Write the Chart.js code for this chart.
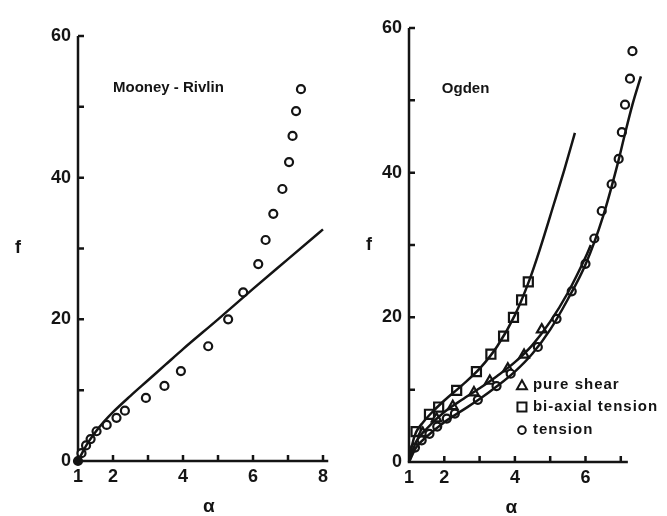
<!DOCTYPE html>
<html>
<head>
<meta charset="utf-8">
<script src="https://cdn.jsdelivr.net/npm/chart.js@4.4.1/dist/chart.umd.min.js"></script>
<style>
  html, body { margin: 0; padding: 0; background: #fff; }
  #wrap { position: relative; width: 667px; height: 516px; }
  .box { position: absolute; top: 0; height: 516px; }
  #left { left: 0; width: 330px; }
  #right { left: 330px; width: 337px; }
</style>
</head>
<body>
<div id="wrap">
  <div class="box" id="left"><canvas id="mrChart" width="330" height="516"></canvas></div>
  <div class="box" id="right"><canvas id="ogChart" width="337" height="516"></canvas></div>
</div>
<script>
// ---- Mooney-Rivlin panel ----
const mrCurveA = [1, 1.25, 1.5, 1.75, 2, 2.5, 3, 3.5, 4, 5, 6, 7, 8];
const mrCurveF = [0, 2.3, 4.1, 5.6, 6.9, 9.2, 11.4, 13.6, 15.8, 20.0, 24.3, 28.5, 32.7];
const mrTensionA = [1, 1.1, 1.23, 1.36, 1.53, 1.82, 2.1, 2.34, 2.94, 3.47, 3.94, 4.72, 5.29, 5.72, 6.15, 6.36, 6.58, 6.84, 7.03, 7.13, 7.23, 7.37];
const mrTensionF = [0, 1.1, 2.2, 3.1, 4.2, 5.1, 6.1, 7.1, 8.9, 10.6, 12.7, 16.2, 20.0, 23.8, 27.8, 31.2, 34.9, 38.4, 42.2, 45.9, 49.4, 52.5];

// ---- Ogden panel ----
const ogTensionCurveA = [1, 1.2, 1.5, 2, 2.5, 3, 3.5, 4, 4.5, 5, 5.5, 6, 6.5, 6.9, 7.1, 7.33, 7.57];
const ogTensionCurveF = [0, 2.0, 3.5, 5.5, 7.1, 8.7, 10.5, 12.5, 15.0, 18.3, 22.5, 27.3, 34.0, 41.0, 45.0, 49.4, 53.3];
const ogShearCurveA = [1, 1.2, 1.5, 2, 2.5, 3, 3.5, 4, 4.5, 5, 5.5, 6, 6.15];
const ogShearCurveF = [0, 2.8, 4.6, 6.9, 8.6, 10.2, 11.9, 13.8, 16.2, 19.4, 23.4, 28.3, 30.0];
const ogBiaxCurveA = [1, 1.1, 1.2, 1.4, 1.6, 2, 2.5, 3, 3.5, 4, 4.4, 4.7, 5.1, 5.4, 5.7];
const ogBiaxCurveF = [0, 2.6, 4.1, 5.5, 6.6, 8.5, 10.6, 12.9, 16.0, 20.3, 25.0, 29.3, 35.6, 40.4, 45.5];

const ogTensionA = [1.17, 1.36, 1.58, 1.8, 2.07, 2.3, 2.95, 3.48, 3.88, 4.65, 5.18, 5.61, 6.0, 6.25, 6.46, 6.74, 6.94, 7.03, 7.12, 7.26, 7.33];
const ogTensionF = [2.0, 3.0, 3.9, 4.9, 6.0, 6.7, 8.6, 10.5, 12.2, 15.9, 19.8, 23.6, 27.4, 30.9, 34.7, 38.4, 41.9, 45.6, 49.4, 53.0, 56.8];
const ogShearA = [1.39, 1.78, 2.24, 2.84, 3.29, 3.8, 4.26, 4.76];
const ogShearF = [4.0, 6.0, 7.7, 9.6, 11.2, 12.9, 14.8, 18.3];
const ogBiaxA = [1.2, 1.58, 1.84, 2.35, 2.91, 3.32, 3.68, 3.96, 4.19, 4.38];
const ogBiaxF = [4.2, 6.6, 7.6, 9.9, 12.5, 14.9, 17.4, 20.0, 22.4, 24.9];

// ---- tick labels ----
const mrXLabels = [1, 2, 4, 6, 8];
const ogXLabels = [1, 2, 4, 6];
const yLabels = [0, 20, 40, 60];
const yTickMarks = [0, 10, 20, 30, 40, 50, 60];

const ink = '#141414';
const fam = '"Liberation Sans", Arial, sans-serif';

function pts(xs, ys) {
  return xs.map((v, i) => ({ x: v, y: ys[i] }));
}

function curve(xs, ys) {
  return {
    data: pts(xs, ys), showLine: true, pointRadius: 0, borderColor: ink,
    borderWidth: 2.5, cubicInterpolationMode: 'monotone', fill: false
  };
}

function marks(xs, ys, style, r) {
  return {
    data: pts(xs, ys), showLine: false, pointStyle: style, pointRadius: r,
    pointBorderWidth: 2.2, pointBorderColor: ink,
    pointBackgroundColor: c => (c.raw && c.raw.x === 1 && c.raw.y === 0) ? ink : '#fff'
  };
}

// axis lines with inward ticks, free text and the small legend
const paperAxes = {
  id: 'paperAxes',
  beforeDatasetsDraw(chart, args, o) {
    const { ctx, scales: { x, y } } = chart;
    const x0 = x.getPixelForValue(1), y0 = y.getPixelForValue(0);
    ctx.save();
    ctx.strokeStyle = ink;
    ctx.lineWidth = 2.5;
    ctx.beginPath();
    ctx.moveTo(x0, y.getPixelForValue(60));
    ctx.lineTo(x0, y0);
    ctx.lineTo(x.getPixelForValue(o.xEnd), y0);
    yTickMarks.forEach(v => {
      const p = y.getPixelForValue(v);
      ctx.moveTo(x0, p); ctx.lineTo(x0 + 6, p);
    });
    o.xTicks.forEach(v => {
      const p = x.getPixelForValue(v);
      ctx.moveTo(p, y0); ctx.lineTo(p, y0 - 6);
    });
    ctx.stroke();
    ctx.restore();
  },
  afterDatasetsDraw(chart, args, o) {
    const { ctx, chartArea, scales: { x, y } } = chart;
    ctx.save();
    ctx.fillStyle = ink;
    ctx.textBaseline = 'middle';
    o.texts.forEach(t => {
      const px = (t.x == null ? chartArea.left : x.getPixelForValue(t.x)) + (t.dx || 0);
      const py = (t.y == null ? chartArea.bottom : y.getPixelForValue(t.y)) + (t.dy || 0);
      ctx.font = t.font;
      ctx.textAlign = t.align || 'left';
      ctx.fillText(t.text, px, py);
    });
    ctx.strokeStyle = ink;
    ctx.lineWidth = 2;
    (o.legend || []).forEach(it => {
      const px = x.getPixelForValue(it.x), py = y.getPixelForValue(it.y);
      ctx.beginPath();
      if (it.style === 'triangle') {
        ctx.moveTo(px, py - 5); ctx.lineTo(px + 5, py + 4); ctx.lineTo(px - 5, py + 4); ctx.closePath();
      } else if (it.style === 'rect') {
        ctx.rect(px - 4.5, py - 4.5, 9, 9);
      } else {
        ctx.arc(px, py, 3.8, 0, Math.PI * 2);
      }
      ctx.stroke();
      ctx.font = 'bold 15px ' + fam;
      ctx.letterSpacing = '1px';
      ctx.textAlign = 'left';
      ctx.fillText(it.label, px + 11, py);
      ctx.letterSpacing = '0px';
    });
    ctx.restore();
  }
};

function makeOptions(cfg) {
  return {
    responsive: false,
    animation: false,
    events: [],
    devicePixelRatio: 1,
    layout: { autoPadding: false, padding: { top: cfg.top, right: cfg.right, left: 0, bottom: 0 } },
    plugins: {
      legend: { display: false },
      tooltip: { enabled: false },
      paperAxes: cfg.axes
    },
    elements: { point: { hitRadius: 0 } },
    clip: false,
    scales: {
      x: {
        type: 'linear', min: 1, max: cfg.xMax,
        grid: { display: false, drawTicks: false },
        border: { display: false },
        ticks: {
          stepSize: 1, includeBounds: false, autoSkip: false, maxRotation: 0, padding: 5, color: ink,
          font: { family: fam, size: 18, weight: 'bold' },
          callback: v => cfg.xLabels.includes(v) ? String(v) : ''
        },
        afterFit: s => { s.height = cfg.xHeight; s.paddingLeft = 0; s.paddingRight = 0; }
      },
      y: {
        type: 'linear', min: 0, max: 60,
        grid: { display: false, drawTicks: false },
        border: { display: false },
        ticks: {
          stepSize: 10, padding: 7, color: ink,
          font: { family: fam, size: 18, weight: 'bold' },
          callback: v => yLabels.includes(v) ? String(v) : ''
        },
        afterFit: s => { s.width = cfg.yWidth; s.paddingTop = 0; s.paddingBottom = 0; }
      }
    }
  };
}

new Chart(document.getElementById('mrChart'), {
  type: 'scatter',
  data: {
    datasets: [
      curve(mrCurveA, mrCurveF),
      marks(mrTensionA, mrTensionF, 'circle', 4)
    ]
  },
  options: makeOptions({
    top: 36, right: 0, xMax: 8.2, xHeight: 55, yWidth: 78, xLabels: mrXLabels,
    axes: {
      xEnd: 8.15,
      xTicks: [1, 2, 3, 4, 5, 6, 7, 8],
      texts: [
        { text: 'Mooney - Rivlin', x: 2.0, y: 52.7, font: 'bold 15px ' + fam },
        { text: 'f', x: null, y: 30, dx: -60, font: 'bold 18px ' + fam, align: 'center' },
        { text: 'α', x: 4.74, y: null, dy: 46, font: 'bold 19px ' + fam, align: 'center' }
      ]
    }
  }),
  plugins: [paperAxes]
});

new Chart(document.getElementById('ogChart'), {
  type: 'scatter',
  data: {
    datasets: [
      curve(ogTensionCurveA, ogTensionCurveF),
      curve(ogShearCurveA, ogShearCurveF),
      curve(ogBiaxCurveA, ogBiaxCurveF),
      marks(ogTensionA, ogTensionF, 'circle', 4),
      marks(ogShearA, ogShearF, 'triangle', 5.5),
      marks(ogBiaxA, ogBiaxF, 'rect', 6.4)
    ]
  },
  options: makeOptions({
    top: 28, right: 21.5, xMax: 7.7, xHeight: 54, yWidth: 79, xLabels: ogXLabels,
    axes: {
      xEnd: 7.2,
      xTicks: [1, 2, 3, 4, 5, 6, 7],
      texts: [
        { text: 'Ogden', x: 1.93, y: 51.6, font: 'bold 15px ' + fam },
        { text: 'f', x: null, y: 30, dx: -40, font: 'bold 18px ' + fam, align: 'center' },
        { text: 'α', x: 3.9, y: null, dy: 46, font: 'bold 19px ' + fam, align: 'center' }
      ],
      legend: [
        { label: 'pure shear', style: 'triangle', x: 4.2, y: 10.6 },
        { label: 'bi-axial tension', style: 'rect', x: 4.2, y: 7.6 },
        { label: 'tension', style: 'circle', x: 4.2, y: 4.4 }
      ]
    }
  }),
  plugins: [paperAxes]
});
</script>
</body>
</html>
